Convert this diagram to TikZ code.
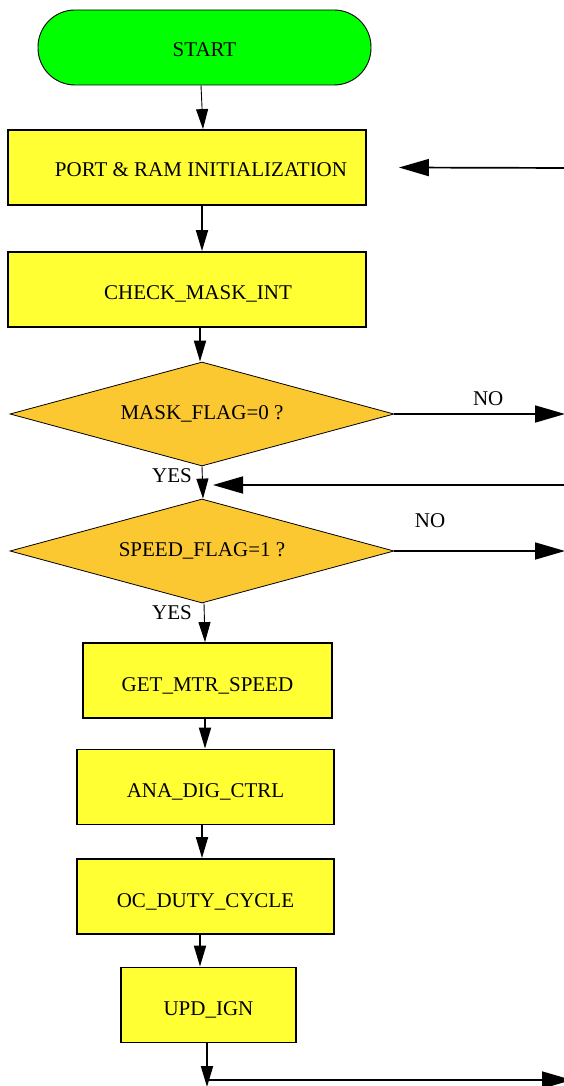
\documentclass[tikz,border=0pt]{standalone}
\usepackage{fontspec}
\setmainfont{Liberation Serif}
\usetikzlibrary{shapes.geometric,arrows.meta}
\definecolor{startgreen}{HTML}{00FF00}
\definecolor{boxyellow}{HTML}{FFFF33}
\definecolor{decorange}{HTML}{FCC832}
\newcommand{\lowtxt}[2]{\raisebox{-#1}[\height][\depth]{#2}}
\tikzset{
  txt/.style={font=\fontsize{21}{25}\selectfont},
  startbox/.style={txt, rectangle, draw, line width=0.9pt, fill=startgreen, rounded corners=37pt, minimum width=333pt, minimum height=75pt, inner sep=0pt},
  procbox/.style={txt, rectangle, draw, line width=1.8pt, fill=boxyellow, inner sep=0pt, minimum height=75pt},
  decbox/.style={txt, diamond, draw, line width=0.8pt, fill=decorange, aspect=3.69, minimum width=384pt, minimum height=104pt, inner sep=0pt},
  thinarr/.style={line width=0.9pt, -{Triangle[length=20pt,width=12pt]}},
  thickarr/.style={line width=1.8pt, -{Triangle[length=21pt,width=12pt]}},
  bigarr/.style={line width=1.7pt, -{Triangle[length=30pt,width=17pt]}},
  lbl/.style={txt, inner sep=0pt}
}
\begin{document}
\begin{tikzpicture}[x=1pt,y=-1pt]
\useasboundingbox (0,0) rectangle (563,1086);
\node[startbox] (start) at (204.5,47.5) {\lowtxt{2pt}{START}};
\node[procbox, minimum width=358pt] (port) at (187,167.5) {\lowtxt{2pt}{\hspace*{28pt}PORT \& RAM INITIALIZATION}};
\node[procbox, minimum width=358pt] (check) at (187,289.5) {\lowtxt{4pt}{\hspace*{22pt}CHECK\_MASK\_INT}};
\node[decbox] (d1) at (202,414) {MASK\_FLAG=0 ?};
\node[decbox] (d2) at (202,551) {SPEED\_FLAG=1 ?};
\node[procbox, minimum width=249pt] (gms) at (207.5,680.5) {\lowtxt{5pt}{GET\_MTR\_SPEED}};
\node[procbox, minimum width=257pt] (ana) at (205.5,787) {\lowtxt{5pt}{ANA\_DIG\_CTRL}};
\node[procbox, minimum width=257pt] (oc) at (205.5,896.5) {\lowtxt{5pt}{OC\_DUTY\_CYCLE}};
\node[procbox, minimum width=175pt] (upd) at (208.5,1005) {\lowtxt{5pt}{UPD\_IGN}};

\coordinate (r1) at (570,168);
\coordinate (r2) at (570,485);
\coordinate (j2) at (213,485);
\coordinate (o1) at (565,414);
\coordinate (o2) at (565,551);
\coordinate (bot) at (207,1087);
\coordinate (botl) at (207,1080);
\coordinate (botr) at (572,1080);

\draw[thinarr] ([xshift=-3.5pt]start.south) -- ([xshift=16pt]port.north);
\draw[bigarr] (r1) -- ([xshift=32pt]port.east);
\draw[thickarr] ([xshift=15pt]port.south) -- ([xshift=15pt]check.north);
\draw[thickarr] ([xshift=13pt]check.south) -- ([xshift=-2pt]d1.north);
\draw[bigarr] (d1.east) -- node[lbl, above=7pt, pos=0.55] (no1) {NO} (o1);
\draw[thinarr] (d1.south) -- ([xshift=1pt]d2.north);
\node[lbl] (yes1) at (172,476) {YES};
\draw[bigarr] (r2) -- (j2);
\draw[bigarr] (d2.east) -- (o2);
\node[lbl] (no2) at (430,521) {NO};
\draw[thinarr] ([xshift=2pt]d2.south) -- ([xshift=-2.5pt]gms.north);
\node[lbl] (yes2) at (172,613) {YES};
\draw[thickarr] ([xshift=-2.5pt]gms.south) -- ([xshift=-0.5pt]ana.north);
\draw[thickarr] ([xshift=-3.5pt]ana.south) -- ([xshift=-3.5pt]oc.north);
\draw[thickarr] ([xshift=-5.5pt]oc.south) -- ([xshift=-8.5pt]upd.north);
\draw[thickarr] (upd.south -| bot) -- (bot);
\draw[bigarr] (botl) -- (botr);
\end{tikzpicture}
\end{document}
